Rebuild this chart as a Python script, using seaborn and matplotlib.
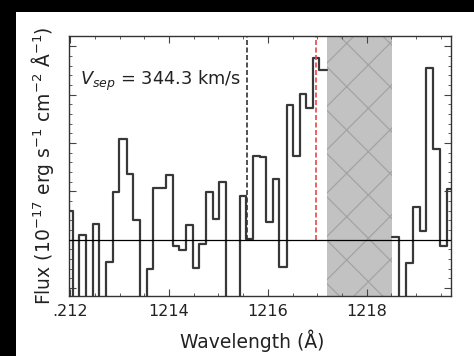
import numpy as np
import pandas as pd
import matplotlib
matplotlib.use("Agg")
import matplotlib.pyplot as plt
from matplotlib.patches import Rectangle
from matplotlib.ticker import MultipleLocator, FixedLocator
import seaborn as sns

# ---- data ----
# blue side segment (bin edges in Angstrom, flux per bin)
edges_a = [1211.91, 1212.05, 1212.18, 1212.32, 1212.45, 1212.59, 1212.72, 1212.87,
           1212.99, 1213.14, 1213.26, 1213.41, 1213.55, 1213.67, 1213.80, 1213.93,
           1214.07, 1214.20, 1214.34, 1214.48, 1214.61, 1214.75, 1214.88, 1215.02,
           1215.15, 1215.29, 1215.43, 1215.56, 1215.70, 1215.84, 1215.96, 1216.10,
           1216.23, 1216.38, 1216.50, 1216.64, 1216.77, 1216.92, 1217.04, 1217.19]
flux_a = [0.60, -1.5, 0.09, -1.5, 0.32, -1.5, -0.47, 0.99,
          2.09, 1.36, 0.40, -1.5, -0.61, 1.07, 1.07, 1.34,
          -0.14, -0.21, 0.30, -0.59, -0.08, 0.99, 0.42, 1.20,
          -1.5, -1.5, 0.91, 0.02, 1.73, 1.71, 0.37, 1.25,
          -0.56, 2.79, 1.73, 3.01, 2.73, 3.76, 3.50]
# red side segment
edges_b = [1218.52, 1218.66, 1218.80, 1218.93, 1219.07, 1219.21, 1219.35, 1219.48,
           1219.62, 1219.76]
flux_b = [0.06, -1.5, -0.49, 0.68, 0.18, 3.54, 1.87, -0.12, 1.05]

masked_region = (1217.20, 1218.52)
lya_sys = 1215.58
lya_red = 1216.98
vsep_text = r"$V_{sep}$ = 344.3 km/s"
xtick_pos = [1212, 1214, 1216, 1218]
xtick_labels = [".212", "1214", "1216", "1218"]

# ---- figure ----
sns.set_theme(style="ticks")
plt.rcParams['font.family'] = ['DejaVu Sans']
plt.rcParams['mathtext.fontset'] = 'dejavusans'

DPI = 130
S = 100 / DPI          # sizes below are tuned for 100 dpi
plt.rcParams['hatch.linewidth'] = 0.9 * S

W, H = 474, 356
fig = plt.figure(figsize=(W / DPI, H / DPI), dpi=DPI)
fig.patch.set_facecolor("black")
fig.add_artist(Rectangle((16 / W, 0), 1 - 16 / W, 1 - 12 / H,
                         transform=fig.transFigure, facecolor="white",
                         edgecolor="none", zorder=0))

ax = fig.add_axes([69 / W, 1 - 296 / H, (450.7 - 69) / W, (296 - 36) / H])
ax.set_facecolor("white")

df_a = pd.DataFrame({"wave": edges_a, "flux": flux_a + [flux_a[-1]]})
df_b = pd.DataFrame({"wave": edges_b, "flux": flux_b + [flux_b[-1]]})
for d in (df_a, df_b):
    sns.lineplot(data=d, x="wave", y="flux", ax=ax, color="#383838",
                 lw=1.6 * S, drawstyle="steps-post", estimator=None, sort=False)

ax.axvspan(*masked_region, facecolor="#c2c2c2", edgecolor="#a3a3a3",
           hatch="x", lw=0, zorder=0.5)
ax.axhline(0, color="black", lw=0.9 * S, zorder=3)

ax.set_xlim(1211.974, 1219.70)
ax.set_ylim(-1.163, 4.21)
ylo, yhi = ax.get_ylim()
ax.vlines(lya_sys, 0, yhi, colors="#333333", linestyles=(0, (3, 1.5)), lw=1.2 * S)
ax.vlines(lya_red, 0, yhi, colors="#e8474a", linestyles=(0, (3, 1.5)), lw=1.2 * S)

ax.text(1212.2, 3.29, vsep_text, fontsize=12.8 * S, color="#222222", va="center")

ax.xaxis.set_major_locator(FixedLocator(xtick_pos))
ax.set_xticklabels(xtick_labels)
ax.xaxis.set_minor_locator(MultipleLocator(0.5))
ax.yaxis.set_major_locator(MultipleLocator(1))
ax.yaxis.set_minor_locator(MultipleLocator(0.2))
ax.tick_params(which="both", direction="in", top=True, right=True,
               labelleft=False, colors="#444444", labelcolor="#222222")
ax.tick_params(which="major", length=5 * S, width=0.8 * S, labelsize=11.5 * S, pad=6 * S)
ax.tick_params(which="minor", length=2.5 * S, width=0.6 * S)
for s in ax.spines.values():
    s.set_color("#333333")
    s.set_linewidth(1.0 * S)

ax.set_xlabel("Wavelength (Å)", fontsize=13.5 * S, color="#222222")
ax.set_ylabel(r"Flux (10$^{-17}$ erg s$^{-1}$ cm$^{-2}$ Å$^{-1}$)",
              fontsize=13.5 * S, color="#222222")
ax.xaxis.set_label_coords(0.481, -0.13)
ax.yaxis.set_label_coords(-0.034, 0.5)

fig.savefig("out.png", dpi=DPI, facecolor=fig.get_facecolor())
